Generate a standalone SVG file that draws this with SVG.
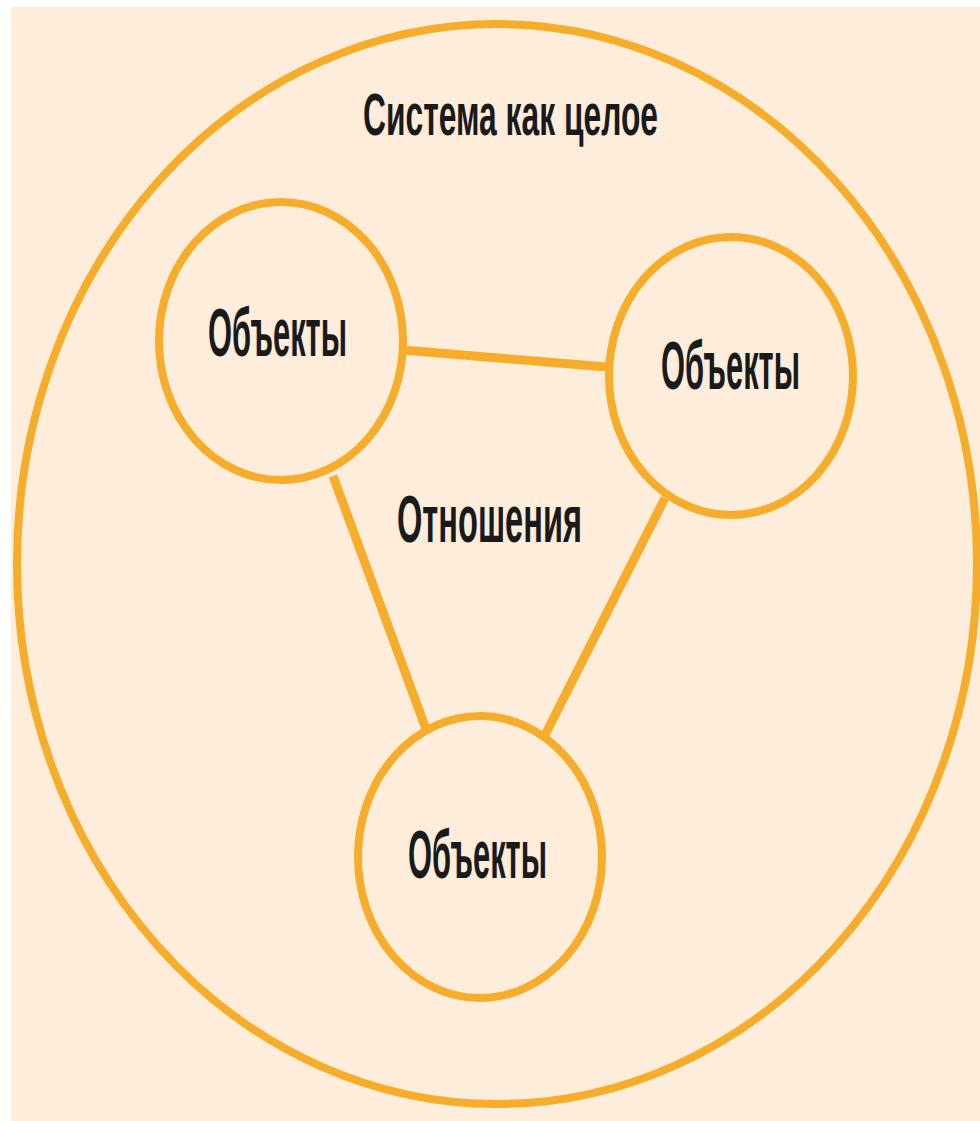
<svg xmlns="http://www.w3.org/2000/svg" width="980" height="1121" viewBox="0 0 980 1121">
  <style>
    .ring { fill: none; stroke: #F6AD2B; stroke-width: 8; }
    .link { stroke: #F6AD2B; stroke-width: 9; stroke-linecap: butt; }
    .lbl { font-family: "Liberation Sans", "DejaVu Sans", sans-serif; font-weight: bold; fill: #1a1a1a; }
  </style>
  <rect x="0" y="0" width="980" height="1121" fill="#ffffff"/>
  <rect x="11" y="7" width="969" height="1114" fill="#FDEDDA"/>
  <g id="system">
    <ellipse class="ring" cx="497" cy="564" rx="480" ry="540"/>
    <text class="lbl" x="363" y="135" font-size="60" textLength="295" lengthAdjust="spacingAndGlyphs">Система как целое</text>
  </g>
  <g id="connectors">
    <line class="link" x1="403" y1="350" x2="607" y2="367"/>
    <line class="link" x1="333" y1="476" x2="426" y2="729"/>
    <line class="link" x1="665" y1="498" x2="545" y2="735"/>
  </g>
  <g id="relations">
    <text class="lbl" x="397" y="542" font-size="67" textLength="185" lengthAdjust="spacingAndGlyphs">Отношения</text>
  </g>
  <g id="obj1">
    <ellipse class="ring" cx="281" cy="341" rx="122" ry="139"/>
    <text class="lbl" x="208" y="356" font-size="68" textLength="139" lengthAdjust="spacingAndGlyphs">Объекты</text>
  </g>
  <g id="obj2">
    <ellipse class="ring" cx="731" cy="376" rx="122" ry="139"/>
    <text class="lbl" x="661" y="389" font-size="68" textLength="139" lengthAdjust="spacingAndGlyphs">Объекты</text>
  </g>
  <g id="obj3">
    <ellipse class="ring" cx="480" cy="857" rx="122" ry="141"/>
    <text class="lbl" x="408" y="878" font-size="68" textLength="139" lengthAdjust="spacingAndGlyphs">Объекты</text>
  </g>
</svg>
